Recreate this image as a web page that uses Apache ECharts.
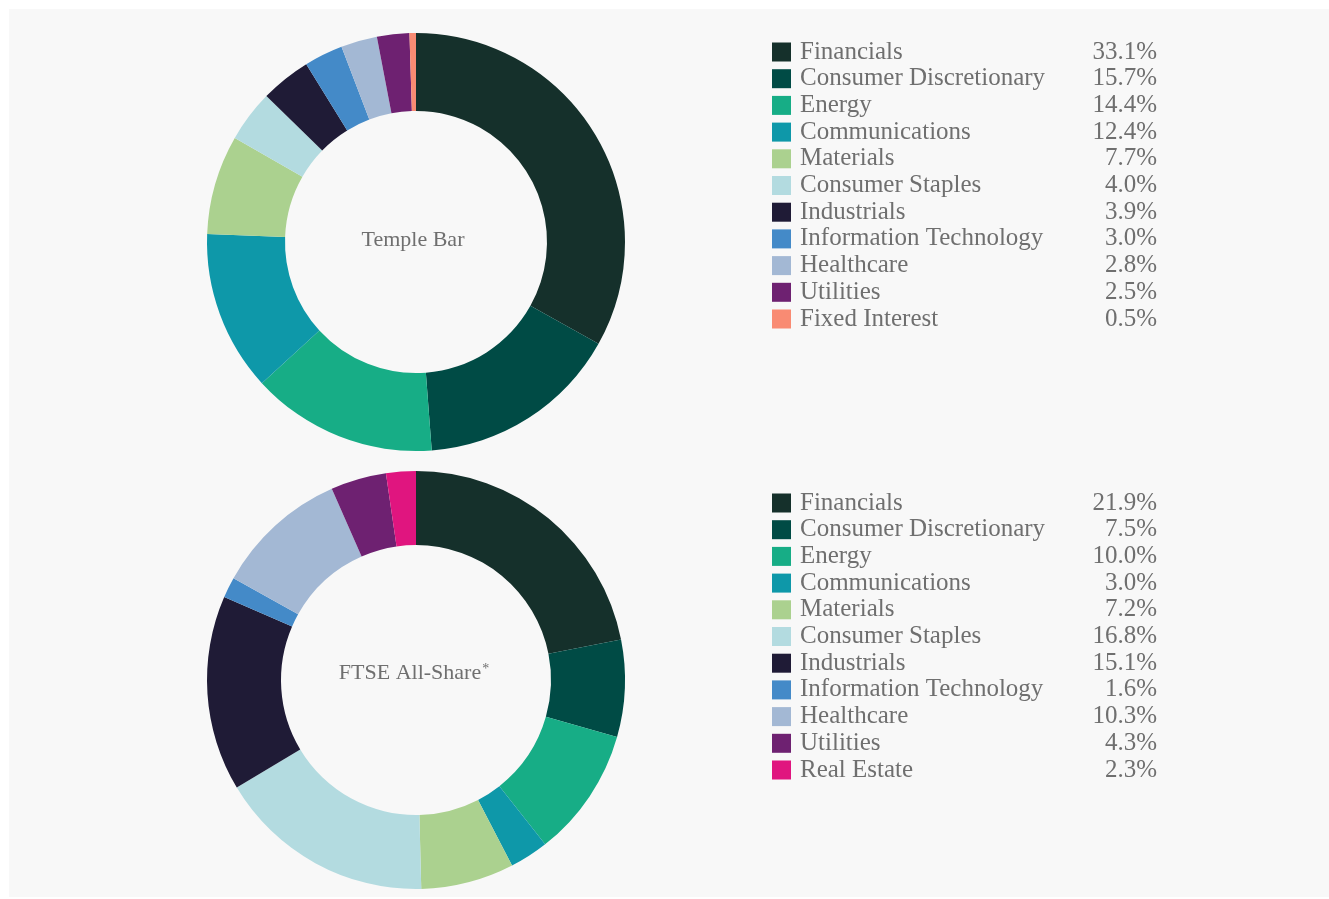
<!DOCTYPE html>
<html>
<head>
<meta charset="utf-8">
<script src="https://cdn.jsdelivr.net/npm/echarts@6/dist/echarts.min.js"></script>
<style>
  html, body { margin: 0; padding: 0; background: #ffffff; }
  #chart { width: 1329px; height: 899px; }
</style>
</head>
<body>
<div id="chart"></div>
<script>
// sectors, top chart = Temple Bar, bottom = FTSE All-Share
const templeNames = ['Financials', 'Consumer Discretionary', 'Energy', 'Communications', 'Materials',
    'Consumer Staples', 'Industrials', 'Information Technology', 'Healthcare', 'Utilities', 'Fixed Interest'];
const templeValues = [33.1, 15.7, 14.4, 12.4, 7.7, 4.0, 3.9, 3.0, 2.8, 2.5, 0.5];

const ftseNames = ['Financials', 'Consumer Discretionary', 'Energy', 'Communications', 'Materials',
    'Consumer Staples', 'Industrials', 'Information Technology', 'Healthcare', 'Utilities', 'Real Estate'];
const ftseValues = [21.9, 7.5, 10.0, 3.0, 7.2, 16.8, 15.1, 1.6, 10.3, 4.3, 2.3];

const sectorColors = {
    'Financials': '#15302b',
    'Consumer Discretionary': '#004b45',
    'Energy': '#17ad86',
    'Communications': '#0e98a9',
    'Materials': '#abd18f',
    'Consumer Staples': '#b3dbe0',
    'Industrials': '#1f1b36',
    'Information Technology': '#448ac8',
    'Healthcare': '#a3b8d4',
    'Utilities': '#6e2171',
    'Fixed Interest': '#f98b73',
    'Real Estate': '#e0157f'
};

const FONT = '"Liberation Serif", "Times New Roman", serif';
const TEXT_GREY = '#6f6f6f';

function pieData(names, values) {
    return names.map(function (n, i) {
        return { name: n, value: values[i], itemStyle: { color: sectorColors[n] } };
    });
}

function legendFor(names, values, top) {
    return {
        orient: 'vertical',
        left: 772,
        top: top,
        padding: 0,
        itemWidth: 19,
        itemHeight: 19,
        itemGap: 1.7,
        icon: 'rect',
        selectedMode: false,
        data: names,
        formatter: function (name) {
            const v = values[names.indexOf(name)];
            return '{n|' + name + '}{v|' + v.toFixed(1) + '%}';
        },
        textStyle: {
            color: TEXT_GREY,
            fontFamily: FONT,
            fontSize: 25,
            rich: {
                n: { width: 278, padding: [0, 0, 0, 4], fontFamily: FONT, fontSize: 25, color: TEXT_GREY, lineHeight: 24 },
                v: { width: 79, align: 'right', fontFamily: FONT, fontSize: 25, color: TEXT_GREY, lineHeight: 24 }
            }
        }
    };
}

const myChart = echarts.init(document.getElementById('chart'));

const option = {
    backgroundColor: '#ffffff',
    animation: false,
    graphic: [{
        type: 'rect',
        shape: { x: 9, y: 9, width: 1320, height: 888 },
        style: { fill: '#f8f8f8' },
        z: -10
    }, {
        type: 'text',
        style: {
            text: 'Temple Bar',
            x: 413, y: 240,
            align: 'center', verticalAlign: 'middle',
            font: '22px ' + FONT,
            fill: TEXT_GREY
        },
        z: 10
    }, {
        type: 'text',
        style: {
            text: '{t|FTSE All-Share}{s|*}',
            x: 414, y: 673,
            align: 'center', verticalAlign: 'middle',
            fill: TEXT_GREY,
            rich: {
                t: { font: '22px ' + FONT, fill: TEXT_GREY },
                s: { font: '14px ' + FONT, fill: TEXT_GREY, verticalAlign: 'top', padding: [0, 0, 8, 1] }
            }
        },
        z: 10
    }],
    legend: [
        legendFor(templeNames, templeValues, 39.5),
        legendFor(ftseNames, ftseValues, 490.5)
    ],
    series: [{
        name: 'Temple Bar',
        type: 'pie',
        center: [416, 242],
        radius: [131, 209],
        startAngle: 90,
        clockwise: true,
        label: { show: false },
        labelLine: { show: false },
        emphasis: { disabled: true },
        data: pieData(templeNames, templeValues)
    }, {
        name: 'FTSE All-Share',
        type: 'pie',
        center: [416, 680],
        radius: [135, 209],
        startAngle: 90,
        clockwise: true,
        label: { show: false },
        labelLine: { show: false },
        emphasis: { disabled: true },
        data: pieData(ftseNames, ftseValues)
    }]
};

myChart.setOption(option);
</script>
</body>
</html>
